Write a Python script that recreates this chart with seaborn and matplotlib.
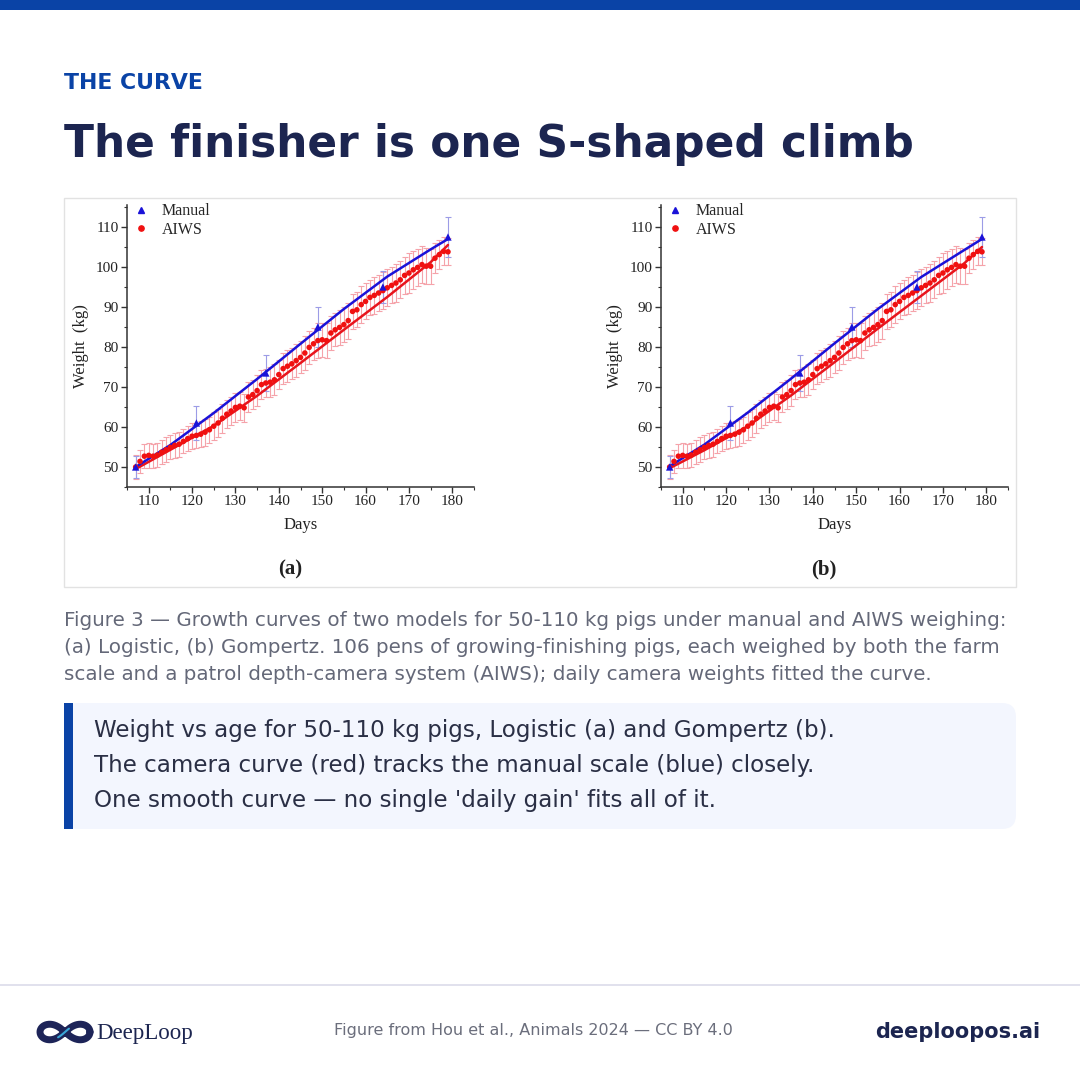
import numpy as np
import matplotlib
matplotlib.use("Agg")
import matplotlib.pyplot as plt
from matplotlib.patches import Rectangle, FancyBboxPatch
from matplotlib.lines import Line2D
import seaborn as sns
import pandas as pd

# %% data
days = list(range(107, 180))
aiws_kg = [50.0, 51.4, 52.7, 52.9, 52.7, 53.0, 53.7, 54.3, 54.9, 55.4,
           55.7, 56.4, 57.1, 57.7, 57.9, 58.2, 58.7, 59.3, 60.2, 61.0,
           62.2, 63.2, 64.0, 64.9, 65.2, 64.8, 67.5, 68.1, 69.1, 70.6,
           71.0, 71.2, 71.8, 73.1, 74.6, 75.2, 75.8, 76.6, 77.4, 78.5,
           79.9, 80.8, 81.6, 81.8, 81.6, 83.5, 84.3, 84.9, 85.6, 86.6,
           88.9, 89.3, 90.6, 91.4, 92.4, 92.9, 93.5, 94.1, 94.8, 95.4,
           96.0, 96.8, 97.9, 98.5, 99.3, 99.9, 100.6, 100.2, 100.2, 102.2,
           103.1, 103.9, 103.8]
aiws_sd = [3.0, 2.8, 3.0, 3.2, 3.0, 2.9, 3.0, 3.1, 3.0, 3.2,
           3.1, 3.0, 3.2, 3.3, 3.1, 3.2, 3.4, 3.3, 3.5, 3.4,
           3.6, 3.5, 3.4, 3.6, 3.5, 3.5, 3.7, 3.6, 3.8, 3.7,
           3.6, 3.8, 3.9, 3.7, 3.8, 4.0, 3.9, 4.1, 4.0, 4.2,
           4.1, 4.0, 4.3, 4.2, 4.4, 4.2, 4.1, 4.3, 4.4, 4.5,
           4.3, 4.4, 4.6, 4.5, 4.4, 4.6, 4.5, 4.7, 4.6, 4.5,
           4.8, 4.6, 4.7, 4.9, 4.8, 4.6, 4.7, 4.5, 4.4, 3.8,
           3.6, 3.5, 3.4]
manual_days = [107, 121, 137, 149, 164, 179]
manual_kg = [50.0, 61.0, 73.5, 85.0, 95.0, 107.5]
manual_sd = [2.8, 4.3, 4.5, 5.0, 4.0, 5.0]

fit_days = [107, 115, 125, 135, 145, 155, 165, 175, 179]
fit_manual_a = [50.0, 55.5, 63.5, 72.0, 80.8, 89.5, 97.6, 104.4, 107.0]
fit_aiws_a = [49.5, 54.3, 60.3, 67.8, 76.0, 84.3, 92.5, 101.2, 105.5]
fit_manual_b = [50.2, 55.6, 63.6, 72.1, 80.9, 89.5, 97.5, 104.3, 107.0]
fit_aiws_b = [49.7, 54.2, 60.2, 67.9, 76.2, 84.6, 92.8, 101.0, 105.0]

panels = ['(a)', '(b)']

# %% figure setup
sns.set_theme(style='white')
plt.rcParams['font.family'] = ['DejaVu Sans']
W = H = 1080
fig = plt.figure(figsize=(10.8, 10.8), dpi=100)
fig.patch.set_facecolor('white')

bg = fig.add_axes([0, 0, 1, 1])
bg.set_xlim(0, W)
bg.set_ylim(H, 0)
bg.axis('off')

navy = '#1c2550'
blue = '#0a43a6'

# top bar
bg.add_patch(Rectangle((0, 0), W, 10, color=blue, lw=0))
bg.text(64, 83, 'THE CURVE', fontsize=15.8, fontweight='bold', color=blue, va='center')
bg.text(64, 145, 'The finisher is one S-shaped climb', fontsize=31.6, fontweight='bold',
        color=navy, va='center')

# chart panel frame
bg.add_patch(Rectangle((64, 198), 952, 389, facecolor='white', edgecolor='#e2e2e2', lw=1))

serif = ['Liberation Serif', 'DejaVu Serif']


def draw_panel(x0, fit_m, fit_a, tag):
    ax = fig.add_axes([x0 / W, 1 - 487 / H, 347 / W, 282 / H])
    ax.set_facecolor('none')
    ax.errorbar(days, aiws_kg, yerr=aiws_sd, fmt='none', ecolor='#f5a3aa',
                elinewidth=0.8, capsize=2.5, capthick=0.8, zorder=1)
    ax.errorbar(manual_days, manual_kg, yerr=manual_sd, fmt='none', ecolor='#9c9ce6',
                elinewidth=0.8, capsize=2.5, capthick=0.8, zorder=1)
    fits = pd.DataFrame({'day': fit_days, 'manual': fit_m, 'aiws': fit_a})
    sns.lineplot(data=fits, x='day', y='aiws', color='#e8141c', lw=1.8, ax=ax, zorder=2)
    sns.lineplot(data=fits, x='day', y='manual', color='#1a12d8', lw=1.8, ax=ax, zorder=3)
    sns.scatterplot(x=days, y=aiws_kg, color='#f01010', s=16, edgecolor='none', ax=ax, zorder=4)
    sns.scatterplot(x=manual_days, y=manual_kg, color='#1a12d8', marker='^', s=28,
                    edgecolor='none', ax=ax, zorder=5)
    ax.set_xlim(105, 185)
    ax.set_ylim(45, 115.5)
    ax.set_xticks([110, 120, 130, 140, 150, 160, 170, 180])
    ax.set_yticks([50, 60, 70, 80, 90, 100, 110])
    ax.set_xticks(np.arange(105, 186, 5), minor=True)
    ax.set_yticks(np.arange(45, 116, 5), minor=True)
    for lab in ax.get_xticklabels() + ax.get_yticklabels():
        lab.set_family(serif)
        lab.set_fontsize(11)
        lab.set_color('#222222')
    ax.tick_params(which='major', direction='out', length=4, width=1, color='#333333',
                   bottom=True, left=True, pad=2)
    ax.tick_params(which='minor', direction='out', length=2.5, width=0.8, color='#333333',
                   bottom=True, left=True)
    for s in ['top', 'right']:
        ax.spines[s].set_visible(False)
    for s in ['left', 'bottom']:
        ax.spines[s].set_color('#333333')
        ax.spines[s].set_linewidth(1.1)
    ax.set_xlabel('Days', family=serif, fontsize=12, color='#222222', labelpad=6)
    ax.set_ylabel('Weight  (kg)', family=serif, fontsize=12, color='#222222', labelpad=5)
    handles = [Line2D([], [], ls='none', marker='^', color='#1a12d8', ms=4.5),
               Line2D([], [], ls='none', marker='o', color='#f01010', ms=3.8)]
    ax.legend(handles, ['Manual', 'AIWS'], loc='upper left', frameon=False,
              prop={'family': serif, 'size': 11.5}, handletextpad=0.5, handlelength=1.6,
              borderaxespad=0.1, labelspacing=0.15, bbox_to_anchor=(-0.02, 1.035))
    bg.text(x0 + 163, 569, tag, family=serif, fontsize=15, fontweight='bold',
            color='#222222', ha='center', va='center')
    return ax


draw_panel(127, fit_manual_a, fit_aiws_a, panels[0])
draw_panel(661, fit_manual_b, fit_aiws_b, panels[1])

# caption
cap = ['Figure 3 \u2014 Growth curves of two models for 50-110 kg pigs under manual and AIWS weighing:',
       '(a) Logistic, (b) Gompertz. 106 pens of growing-finishing pigs, each weighed by both the farm',
       'scale and a patrol depth-camera system (AIWS); daily camera weights fitted the curve.']
for i, line in enumerate(cap):
    bg.text(64, 620 + i * 27.5, line, fontsize=14.3, color='#646878', va='center')

# callout
bg.add_patch(FancyBboxPatch((64, 703), 952, 126, boxstyle='round,pad=0,rounding_size=14',
                            facecolor='#f3f6fe', edgecolor='none'))
bg.add_patch(Rectangle((64, 703), 9, 126, color=blue, lw=0))
notes = ['Weight vs age for 50-110 kg pigs, Logistic (a) and Gompertz (b).',
         'The camera curve (red) tracks the manual scale (blue) closely.',
         "One smooth curve \u2014 no single 'daily gain' fits all of it."]
for i, line in enumerate(notes):
    bg.text(94, 731 + i * 34.5, line, fontsize=16.6, color='#2a2f45', va='center')

# footer
bg.plot([0, W], [985, 985], color='#dcdcea', lw=1.2)
t = np.linspace(0, 2 * np.pi, 300)
lx = 65 + 25 * np.cos(t) / (1 + np.sin(t) ** 2)
ly = 1032 + 22 * np.sin(t) * np.cos(t) / (1 + np.sin(t) ** 2)
bg.plot(lx, ly, color='#1d2458', lw=5, solid_capstyle='round')
bg.plot(lx[200:240], ly[200:240], color='#3aa6d8', lw=1.5)
bg.text(96, 1033, 'DeepLoop', family=serif, fontsize=16.5, color='#1c2550', va='center')
bg.text(533, 1031, 'Figure from Hou et al., Animals 2024 \u2014 CC BY 4.0', fontsize=11.5,
        color='#6b6e7c', ha='center', va='center')
bg.text(1040, 1032, 'deeploopos.ai', fontsize=15, fontweight='bold', color=navy,
        ha='right', va='center')

fig.savefig('out.png', dpi=100, facecolor='white')
